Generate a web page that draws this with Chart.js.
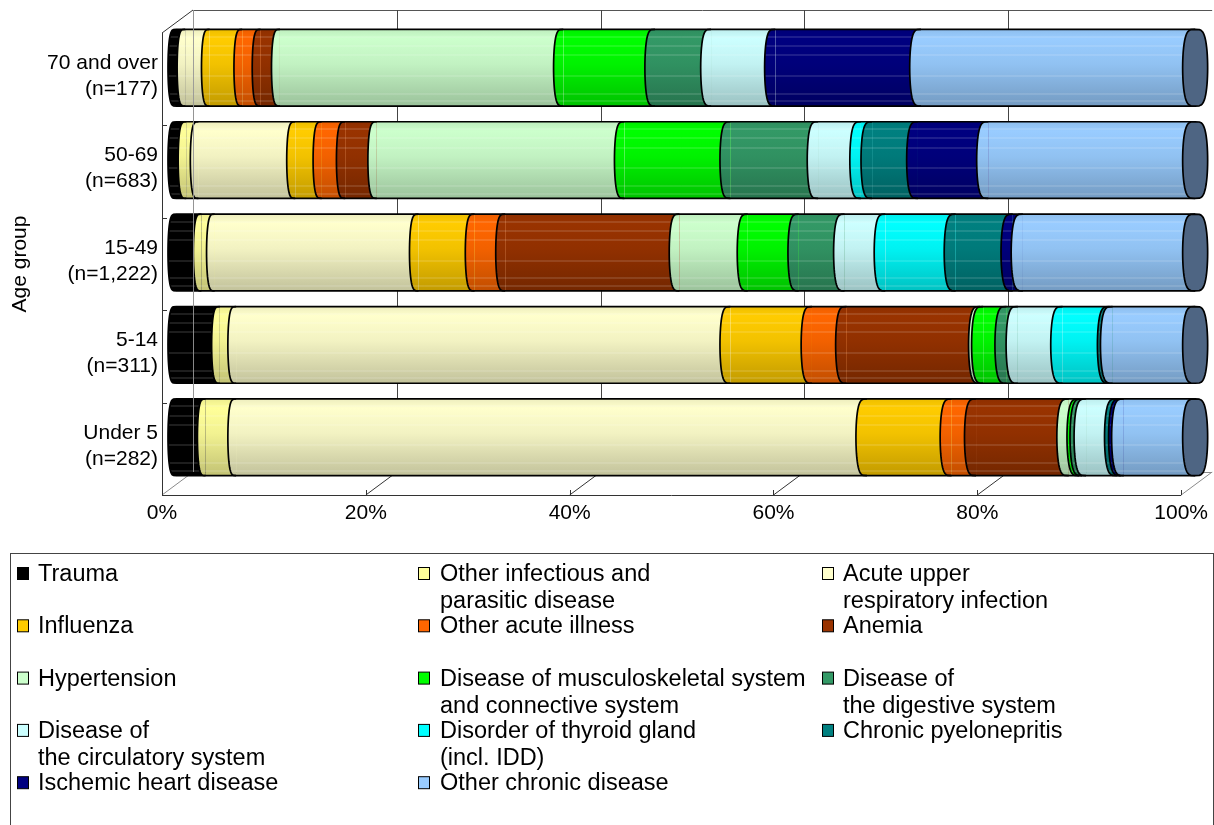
<!DOCTYPE html>
<html>
<head>
<meta charset="utf-8">
<title>Reasons for visit by age group</title>
<script src="https://cdn.jsdelivr.net/npm/chart.js@4/dist/chart.umd.min.js"></script>
<style>
  html, body { margin: 0; padding: 0; background: #fff; }
  canvas { display: block; }
</style>
</head>
<body>
<canvas id="chart" width="1214" height="825"></canvas>
<script>
// Age groups, top to bottom
const ageGroups = [
  ['70 and over', '(n=177)'],
  ['50-69', '(n=683)'],
  ['15-49', '(n=1,222)'],
  ['5-14', '(n=311)'],
  ['Under 5', '(n=282)']
];

// Share of visits (%) per diagnosis group, in the order of ageGroups
const trauma          = [0.9, 1.0, 2.5, 4.3, 2.9];
const otherInfectious = [0.0, 1.2, 1.3, 1.6, 3.0];
const acuteUpperResp  = [2.4, 9.5, 20.0, 48.5, 61.9];
const influenza       = [3.2, 2.6, 5.5, 8.0, 8.3];
const otherAcute      = [1.8, 2.3, 3.0, 3.4, 2.4];
const anemia          = [1.9, 3.1, 17.1, 13.1, 9.1];
const hypertension    = [27.8, 24.3, 6.7, 0.3, 1.0];
const musculoskeletal = [9.0, 10.4, 5.0, 2.3, 0.3];
const digestive       = [5.5, 8.6, 4.5, 1.1, 0.4];
const circulatory     = [6.3, 4.2, 4.0, 4.4, 3.0];
const thyroid         = [0.0, 1.1, 6.9, 4.6, 0.0];
const pyelonephritis  = [0.0, 4.5, 5.6, 0.3, 0.4];
const ischemic        = [14.3, 6.9, 1.0, 0.0, 0.3];
const otherChronic    = [26.9, 20.3, 16.9, 8.1, 7.0];

const seriesNames = [
  ['Trauma'],
  ['Other infectious and', 'parasitic disease'],
  ['Acute upper', 'respiratory infection'],
  ['Influenza'],
  ['Other acute illness'],
  ['Anemia'],
  ['Hypertension'],
  ['Disease of musculoskeletal system', 'and connective system'],
  ['Disease of', 'the digestive system'],
  ['Disease of', 'the circulatory system'],
  ['Disorder of thyroid gland', '(incl. IDD)'],
  ['Chronic pyelonepritis'],
  ['Ischemic heart disease'],
  ['Other chronic disease']
];
const seriesValues = [
  trauma, otherInfectious, acuteUpperResp, influenza, otherAcute, anemia,
  hypertension, musculoskeletal, digestive, circulatory, thyroid,
  pyelonephritis, ischemic, otherChronic
];
const seriesColors = [
  '#000000', '#FFFF99', '#FFFFCC', '#FFCC00', '#FF6600', '#993300',
  '#CCFFCC', '#00FF00', '#339966', '#CCFFFF', '#00FFFF',
  '#008080', '#000080', '#99CCFF'
];
const percentStep = 20;
const axisTitle = 'Age group';

// ---- drawing constants ----
const FONT = '"Liberation Sans", Arial, Helvetica, sans-serif';
const BAR_SHARE = 0.83;            // bar thickness relative to its band
const WALL_DX = 31, WALL_DY = -23; // depth of the 3D box
const BAR_DX = 14, BAR_DY = -11.5; // bars sit halfway into the box
const CAP_COLOR = '#4E6583';

function shade(hex, f) {
  const n = parseInt(hex.slice(1), 16);
  const r = (n >> 16) & 255, g = (n >> 8) & 255, b = n & 255;
  return 'rgb(' + Math.round(r * f) + ',' + Math.round(g * f) + ',' + Math.round(b * f) + ')';
}

// vertical light-to-dark shading of one cylinder band
function bandGradient(ctx, color, top, bottom) {
  const g = ctx.createLinearGradient(0, top, 0, bottom);
  g.addColorStop(0, shade(color, 0.93));
  g.addColorStop(0.12, shade(color, 1));
  g.addColorStop(0.45, shade(color, 0.95));
  g.addColorStop(1, shade(color, 0.76));
  return g;
}

function barFill(c) {
  const color = seriesColors[c.datasetIndex];
  if (c.type !== 'data') return color;
  const chart = c.chart;
  const ys = chart.scales.y;
  if (!ys || !chart.chartArea) return color;
  const center = ys.getPixelForValue(c.dataIndex);
  const h = ys.height / ageGroups.length * BAR_SHARE;
  return bandGradient(chart.ctx, color, center - h / 2, center + h / 2);
}

// left half of an end ellipse, traced from top to bottom
function leftHalf(ctx, x, cy, rx, ry, start) {
  const n = 28;
  for (let k = 0; k <= n; k++) {
    const t = -Math.PI / 2 + Math.PI * k / n;
    const px = x - rx * Math.pow(Math.max(Math.cos(t), 0), 0.5);
    const py = cy + ry * Math.sin(t);
    if (k === 0 && start) ctx.moveTo(px, py); else ctx.lineTo(px, py);
  }
}
function rightHalf(ctx, x, cy, rx, ry) {
  const n = 28;
  for (let k = 0; k <= n; k++) {
    const t = Math.PI / 2 - Math.PI * k / n;
    const px = x + rx * Math.pow(Math.max(Math.cos(t), 0), 0.5);
    const py = cy + ry * Math.sin(t);
    ctx.lineTo(px, py);
  }
}

const STRIPES = [0.09, 0.21, 0.33, 0.6, 0.83, 0.93];

const cylinderPlugin = {
  id: 'cylinders',
  beforeDatasetsDraw(chart) {
    drawBox(chart);
    chart.ctx.save();
    chart.ctx.translate(BAR_DX, BAR_DY);
  },
  afterDatasetsDraw(chart) {
    drawCylinders(chart);
    chart.ctx.restore();
    // left edge of the back wall shows through the bars
    const ctx = chart.ctx, a = chart.chartArea;
    ctx.save();
    ctx.strokeStyle = 'rgba(150,150,150,0.9)';
    ctx.lineWidth = 1;
    ctx.beginPath();
    ctx.moveTo(a.left + WALL_DX + 0.5, a.top + WALL_DY);
    ctx.lineTo(a.left + WALL_DX + 0.5, a.bottom + WALL_DY);
    ctx.stroke();
    ctx.restore();
  },
  afterDraw(chart) {
    drawLegend(chart);
  }
};

function line(ctx, x1, y1, x2, y2, color, w) {
  ctx.strokeStyle = color;
  ctx.lineWidth = w || 1;
  ctx.beginPath();
  ctx.moveTo(x1, y1);
  ctx.lineTo(x2, y2);
  ctx.stroke();
}

function drawBox(chart) {
  const ctx = chart.ctx, a = chart.chartArea, xs = chart.scales.x, ys = chart.scales.y;
  ctx.save();
  const bl = a.left + WALL_DX, bt = a.top + WALL_DY, bb = a.bottom + WALL_DY, br = a.right + WALL_DX;
  // back wall
  line(ctx, bl, bt + 0.5, br, bt + 0.5, '#555');
  line(ctx, bl + 0.5, bt, bl + 0.5, bb, '#8a8a8a');
  for (let v = percentStep; v < 100; v += percentStep) {
    const x = Math.round(xs.getPixelForValue(v) + WALL_DX) + 0.5;
    line(ctx, x, bt, x, bb, '#444');
  }
  // floor
  line(ctx, bl, bb + 0.5, br, bb + 0.5, '#8a8a8a');
  for (let v = 0; v <= 100; v += percentStep) {
    const x = xs.getPixelForValue(v);
    const edge = (v === 0 || v === 100);
    line(ctx, x, a.bottom, x + WALL_DX, a.bottom + WALL_DY, edge ? '#8a8a8a' : '#333');
    line(ctx, Math.round(x) + 0.5, a.bottom - 5, Math.round(x) + 0.5, a.bottom, '#333');
  }
  // top-left corner of the box
  line(ctx, a.left, a.top, bl, bt, '#333');
  // front axes
  line(ctx, a.left + 0.5, a.top, a.left + 0.5, a.bottom, '#333');
  line(ctx, a.left, a.bottom + 0.5, a.right, a.bottom + 0.5, '#333');
  const band = ys.height / ageGroups.length;
  for (let i = 1; i < ageGroups.length; i++) {
    const y = Math.round(a.top + band * i) + 0.5;
    line(ctx, a.left, y, a.left + 5, y, '#333');
  }
  ctx.restore();
}

function drawCylinders(chart) {
  const ctx = chart.ctx;
  const xs = chart.scales.x;
  const xStart = xs.getPixelForValue(0), xEnd = xs.getPixelForValue(100);
  const rxAt = x => 8 + 4.5 * (x - xStart) / (xEnd - xStart);
  const metas = seriesValues.map((_, i) => chart.getDatasetMeta(i));

  ctx.save();
  for (let j = 0; j < ageGroups.length; j++) {
    const segs = [];
    metas.forEach((m, i) => {
      const el = m.data[j];
      const p = el.getProps(['x', 'y', 'base', 'height'], true);
      if (Math.abs(p.x - p.base) > 0.05) segs.push({ i, x0: Math.min(p.base, p.x), x1: Math.max(p.base, p.x), cy: p.y, h: p.height });
    });
    if (!segs.length) continue;
    const cy = segs[0].cy, ry = segs[0].h / 2, top = cy - ry, bottom = cy + ry;

    // rounded near edge of each band, laid over the band before it
    segs.forEach(s => {
      ctx.beginPath();
      leftHalf(ctx, s.x0, cy, rxAt(s.x0), ry, true);
      ctx.closePath();
      ctx.fillStyle = bandGradient(ctx, seriesColors[s.i], top, bottom);
      ctx.fill();
    });

    // faint horizontal banding along the whole cylinder
    ctx.save();
    ctx.beginPath();
    leftHalf(ctx, xStart, cy, rxAt(xStart), ry, true);
    ctx.lineTo(xEnd, bottom);
    ctx.lineTo(xEnd, top);
    ctx.closePath();
    ctx.clip();
    ctx.strokeStyle = 'rgba(255,255,255,0.24)';
    ctx.lineWidth = 1;
    STRIPES.forEach(f => {
      const y = Math.round(top + f * (bottom - top)) + 0.5;
      ctx.beginPath();
      ctx.moveTo(xStart - 20, y);
      ctx.lineTo(xEnd, y);
      ctx.stroke();
    });
    ctx.restore();

    // outlines
    ctx.strokeStyle = '#000';
    ctx.lineWidth = 1.7;
    ctx.lineJoin = 'round';
    segs.forEach(s => {
      ctx.beginPath();
      leftHalf(ctx, s.x0, cy, rxAt(s.x0), ry, true);
      ctx.stroke();
    });
    ctx.beginPath();
    ctx.moveTo(xStart, top);
    ctx.lineTo(xEnd, top);
    ctx.moveTo(xStart, bottom);
    ctx.lineTo(xEnd, bottom);
    ctx.stroke();

    // far end cap
    const rc = rxAt(xEnd);
    ctx.beginPath();
    leftHalf(ctx, xEnd, cy, rc, ry, true);
    rightHalf(ctx, xEnd, cy, rc, ry);
    ctx.closePath();
    ctx.fillStyle = CAP_COLOR;
    ctx.fill();
    ctx.stroke();
  }
  ctx.restore();
}

function drawLegend(chart) {
  const ctx = chart.ctx;
  ctx.save();
  ctx.strokeStyle = '#444';
  ctx.lineWidth = 1;
  ctx.strokeRect(10.5, 553.5, 1203, 300);
  const markerX = [17, 418, 822];
  const textX = [38, 440, 843];
  ctx.font = '23.5px ' + FONT;
  ctx.textBaseline = 'middle';
  ctx.textAlign = 'left';
  seriesNames.forEach((lines, i) => {
    const col = i % 3, row = Math.floor(i / 3);
    const y = 573.5 + row * 52.3;
    ctx.fillStyle = seriesColors[i];
    ctx.fillRect(markerX[col] + 0.5, y - 6, 11, 12);
    ctx.strokeStyle = '#000';
    ctx.strokeRect(markerX[col] + 0.5, y - 6, 11, 12);
    ctx.fillStyle = '#000';
    lines.forEach((t, k) => ctx.fillText(t, textX[col], y + 1 + k * 27));
  });
  ctx.restore();
}

Chart.defaults.font.family = FONT;
Chart.defaults.color = '#000';

new Chart(document.getElementById('chart'), {
  type: 'bar',
  data: {
    labels: ageGroups,
    datasets: seriesValues.map((vals, i) => ({
      label: seriesNames[i].join(' '),
      data: vals,
      backgroundColor: barFill,
      borderWidth: 0,
      categoryPercentage: 1,
      barPercentage: BAR_SHARE,
      clip: false
    }))
  },
  options: {
    indexAxis: 'y',
    responsive: false,
    animation: false,
    layout: { padding: { top: 33, right: 29, left: 0, bottom: 0 } },
    scales: {
      x: {
        stacked: true,
        min: 0,
        max: 100,
        ticks: {
          stepSize: percentStep,
          callback: v => v + '%',
          font: { size: 21, lineHeight: 1.2 },
          color: '#000',
          padding: 6,
          maxRotation: 0
        },
        grid: { display: false, drawTicks: false },
        border: { display: false },
        afterFit: s => { s.height = 330; }
      },
      y: {
        stacked: true,
        ticks: {
          font: { size: 21, lineHeight: 1.24 },
          color: '#000',
          padding: 4,
          labelOffset: -3,
          autoSkip: false
        },
        grid: { display: false, drawTicks: false },
        border: { display: false },
        title: {
          display: true,
          text: axisTitle,
          font: { size: 21, lineHeight: 1.2 },
          color: '#000',
          padding: { top: 8, bottom: 0 }
        },
        afterFit: s => { s.width = 162; }
      }
    },
    plugins: {
      legend: { display: false },
      tooltip: { enabled: false }
    }
  },
  plugins: [cylinderPlugin]
});
</script>
</body>
</html>
